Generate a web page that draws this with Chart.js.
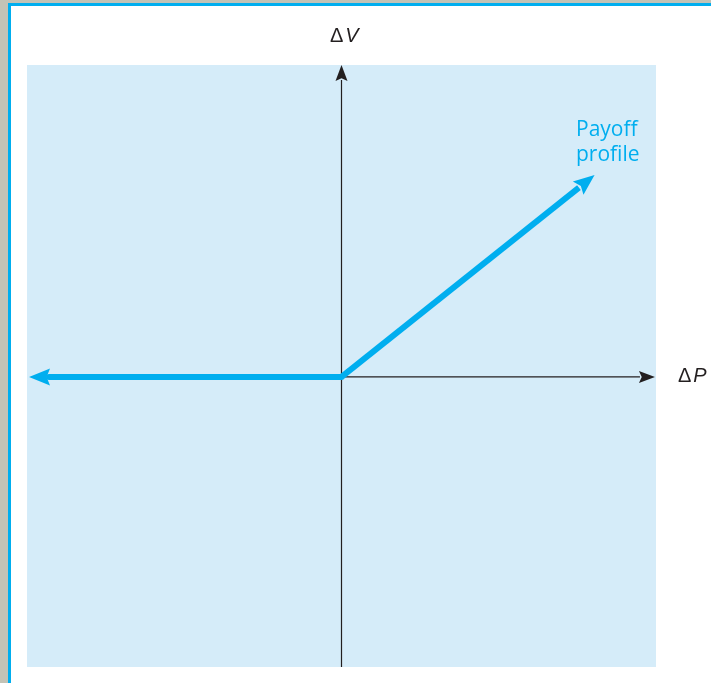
<!DOCTYPE html>
<html lang="en">

<head>
    <meta charset="UTF-8">
    <title>Payoff profile</title>
    <script src="https://cdn.jsdelivr.net/npm/chart.js"></script>
    <style>
        html, body { margin: 0; padding: 0; background: #c3c3b6; overflow: hidden; }
        .frame {
            position: absolute; left: 8px; top: 3px; width: 800px; height: 800px;
            background: #fff; border-left: 3px solid #00aeef; border-top: 3px solid #00aeef;
        }
        .wrap { position: absolute; left: 0; top: 0; width: 711px; height: 683px; }
        .lbl { position: absolute; font-family: "Open Sans", sans-serif; color: #231f20; white-space: nowrap; }
        .axl { font-family: "Liberation Sans", Arial, sans-serif; font-size: 20px; line-height: 20px; letter-spacing: 2px; }
        .lbl i { font-style: italic; }
    </style>
</head>

<body>
    <div class="frame"></div>
    <div class="wrap">
        <canvas id="payoffChart" width="711" height="683"></canvas>
        <div class="lbl axl" style="left:330px; top:25px;">&Delta;<i>V</i></div>
        <div class="lbl axl" style="left:678px; top:365px;">&Delta;<i>P</i></div>
        <div class="lbl" style="left:576px; top:116px; font-size:21px; line-height:25px; color:#00aeef;">Payoff<br>profile</div>
    </div>

    <script>
        // data (axis units, origin at 0,0)
        const payoffX = [-0.93, 0, 0.755];
        const payoffY = [0, 0, 0.607];
        const hAxisX = [0, 0.949];
        const hAxisY = [0, 0];
        const vAxisX = [0, 0];
        const vAxisY = [-0.93, 0.952];

        const xRange = [-1, 1];
        const yRange = [-0.93, 1];

        const toPoints = (xs, ys) => xs.map((x, i) => ({ x: x, y: ys[i] }));

        // light blue plot background
        const bgPlugin = {
            id: 'bg',
            beforeDraw(chart) {
                const { ctx, chartArea: a } = chart;
                ctx.save();
                ctx.fillStyle = '#d5ecf9';
                ctx.fillRect(a.left, a.top, a.right - a.left, a.bottom - a.top);
                ctx.restore();
            }
        };

        // arrow heads past the last point of a dataset
        const arrowPlugin = {
            id: 'arrows',
            afterDatasetsDraw(chart) {
                const ctx = chart.ctx;
                chart.data.datasets.forEach((ds, i) => {
                    if (!ds.arrow) return;
                    const pts = chart.getDatasetMeta(i).data;
                    const p1 = pts[pts.length - 2], p2 = pts[pts.length - 1];
                    let dx = p2.x - p1.x, dy = p2.y - p1.y;
                    const len = Math.hypot(dx, dy);
                    dx /= len; dy /= len;
                    const L = ds.arrow.length, W = ds.arrow.width / 2;
                    const tx = p2.x + dx * L, ty = p2.y + dy * L;
                    const bx = p2.x - dx * 1, by = p2.y - dy * 1;
                    ctx.save();
                    ctx.fillStyle = ds.borderColor;
                    ctx.beginPath();
                    ctx.moveTo(tx, ty);
                    ctx.lineTo(bx - dy * W, by + dx * W);
                    ctx.lineTo(p2.x + dx * L * 0.12, p2.y + dy * L * 0.12);
                    ctx.lineTo(bx + dy * W, by - dx * W);
                    ctx.closePath();
                    ctx.fill();
                    ctx.restore();
                });
            }
        };

        // the payoff line goes both ways from the origin: left arm drawn reversed so it gets a head too
        const leftArmX = [payoffX[1], payoffX[0]];
        const leftArmY = [payoffY[1], payoffY[0]];

        document.addEventListener("DOMContentLoaded", () => {
            const ctx = document.getElementById('payoffChart').getContext('2d');
            new Chart(ctx, {
                type: 'scatter',
                data: {
                    datasets: [
                        {
                            label: 'Payoff profile',
                            data: toPoints(payoffX.slice(1), payoffY.slice(1)),
                            showLine: true, borderColor: '#00aeef', borderWidth: 6,
                            pointRadius: 0, borderCapStyle: 'butt', borderJoinStyle: 'miter',
                            arrow: { length: 20, width: 17 }, order: 0
                        },
                        {
                            label: 'Payoff left',
                            data: toPoints(leftArmX, leftArmY),
                            showLine: true, borderColor: '#00aeef', borderWidth: 6,
                            pointRadius: 0, borderCapStyle: 'round',
                            arrow: { length: 20, width: 17 }, order: 0
                        },
                        {
                            label: 'dP axis',
                            data: toPoints(hAxisX, hAxisY),
                            showLine: true, borderColor: '#231f20', borderWidth: 1.2,
                            pointRadius: 0, arrow: { length: 15, width: 12 }, order: 1
                        },
                        {
                            label: 'dV axis',
                            data: toPoints(vAxisX, vAxisY),
                            showLine: true, borderColor: '#231f20', borderWidth: 1.2,
                            pointRadius: 0, arrow: { length: 15, width: 12 }, order: 1
                        }
                    ]
                },
                options: {
                    responsive: false,
                    animation: false,
                    layout: { padding: { left: 27, right: 55, top: 65, bottom: 16 } },
                    plugins: { legend: { display: false }, tooltip: { enabled: false } },
                    scales: {
                        x: { type: 'linear', min: xRange[0], max: xRange[1], display: false },
                        y: { type: 'linear', min: yRange[0], max: yRange[1], display: false }
                    }
                },
                plugins: [bgPlugin, arrowPlugin]
            });
        });
    </script>
</body>

</html>
